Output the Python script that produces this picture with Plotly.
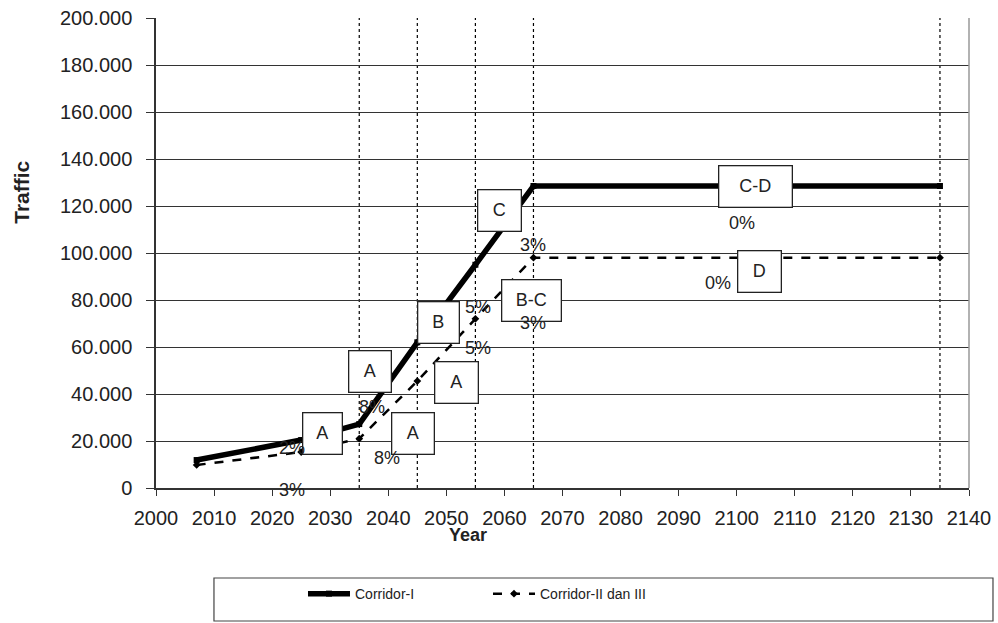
import plotly.graph_objects as go

# ---- data ----
years_c1 = [2007, 2025, 2035, 2045, 2055, 2065, 2135]
traffic_c1 = [11900, 20400, 27200, 62000, 95000, 128500, 128500]

years_c2 = [2007, 2025, 2035, 2045, 2055, 2065, 2135]
traffic_c2 = [9800, 15300, 21000, 45500, 72000, 98000, 98000]

phase_years = [2035, 2045, 2055, 2065, 2135]

x_ticks = list(range(2000, 2141, 10))
y_ticks = list(range(0, 200001, 20000))

# ---- layout helpers (label positions, in data units) ----
box_labels = ["A", "A", "A", "A", "B", "C", "B-C", "C-D", "D"]
box_x = [2028.6, 2036.9, 2044.3, 2051.8, 2048.6, 2059.2, 2064.7, 2103.3, 2104.0]
box_y = [23000, 49400, 23000, 44700, 70600, 117900, 80000, 128100, 92300]
box_w = [38, 41, 41, 42, 40, 42, 58, 72, 42]

pct_labels = ["3%", "2%", "8%", "8%", "5%", "5%", "3%", "3%", "0%", "0%"]
pct_x = [2023.4, 2023.4, 2037.2, 2039.8, 2055.4, 2055.4, 2064.9, 2064.9, 2100.9, 2096.8]
pct_y = [0, 17000, 34500, 12800, 77100, 59600, 103500, 70400, 112700, 87200]
pct_shift = [-2, 0, 0, 0, 0, 0, 0, 0, 0, 0]

FONT = "Liberation Sans, Arial, sans-serif"

fig = go.Figure()
fig.add_trace(go.Scatter(
    x=years_c1, y=traffic_c1, name="Corridor-I", mode="lines+markers",
    line=dict(color="black", width=5.5),
    marker=dict(symbol="square", size=6, color="black"),
))
fig.add_trace(go.Scatter(
    x=years_c2, y=traffic_c2, name="Corridor-II dan III", mode="lines+markers",
    line=dict(color="black", width=2.5, dash="dash"),
    marker=dict(symbol="diamond", size=6, color="black"),
))

shapes = []
for yr in phase_years:
    shapes.append(dict(type="line", xref="x", yref="y", x0=yr, x1=yr,
                       y0=0, y1=200000, line=dict(color="black", width=1.2, dash="dot"),
                       layer="below"))
# right border
shapes.append(dict(type="line", xref="paper", yref="paper", x0=1, x1=1, y0=0, y1=1,
                   line=dict(color="#999999", width=1.5)))
# legend frame
shapes.append(dict(type="rect", xref="paper", yref="paper",
                   x0=0.0713, x1=1.0295, y0=-0.283, y1=-0.1915,
                   line=dict(color="#444444", width=1.2), fillcolor="white", layer="below"))

annotations = []
for t, x, y, w in zip(box_labels, box_x, box_y, box_w):
    annotations.append(dict(x=x, y=y, xref="x", yref="y", text=t, showarrow=False,
                            xanchor="center", yanchor="middle",
                            width=w, height=40, borderpad=0, borderwidth=1.3,
                            bordercolor="#222222", bgcolor="white",
                            font=dict(family=FONT, size=18, color="#222222")))
for t, x, y, s in zip(pct_labels, pct_x, pct_y, pct_shift):
    annotations.append(dict(x=x, y=y, xref="x", yref="y", text=t, showarrow=False,
                            xanchor="center", yanchor="middle", yshift=s,
                            font=dict(family=FONT, size=18, color="#222222")))
annotations.append(dict(x=0.384, y=-0.1, xref="paper", yref="paper", text="<b>Year</b>",
                        xanchor="center", yanchor="middle",
                        showarrow=False, font=dict(family=FONT, size=18, color="#222222")))
annotations.append(dict(x=-0.165, y=0.63, xref="paper", yref="paper", text="<b>Traffic</b>",
                        xanchor="center", yanchor="middle",
                        textangle=-90, showarrow=False,
                        font=dict(family=FONT, size=21, color="#222222")))

fig.update_layout(
    width=998, height=623,
    margin=dict(l=156, r=29, t=18, b=135, autoexpand=False),
    paper_bgcolor="white", plot_bgcolor="white",
    separators=",.",
    font=dict(family=FONT, size=18, color="#222222"),
    shapes=shapes,
    annotations=annotations,
    showlegend=True,
    legend=dict(orientation="h", xref="container", yref="container",
                x=0.3036, y=0.0465, xanchor="left", yanchor="middle",
                bgcolor="rgba(0,0,0,0)", borderwidth=0, itemwidth=42,
                entrywidth=128, entrywidthmode="pixels",
                font=dict(family=FONT, size=14, color="#222222")),
    xaxis=dict(range=[2000, 2140], tickvals=x_ticks, ticks="outside", ticklen=6,
               tickcolor="#333333", showline=True, linecolor="#333333", linewidth=1.5,
               showgrid=False, zeroline=False, ticklabelstandoff=5, automargin=False,
               tickfont=dict(family=FONT, size=20, color="#222222")),
    yaxis=dict(range=[0, 200000], tickvals=y_ticks, tickformat=",d", ticks="outside",
               ticklen=8, tickcolor="#333333", showline=True, linecolor="#333333",
               linewidth=1.5, showgrid=True, gridcolor="#333333", gridwidth=1,
               zeroline=False, ticklabelstandoff=10, automargin=False,
               tickfont=dict(family=FONT, size=20, color="#222222")),
)

fig.write_html("out.html", config={"displayModeBar": False},
               post_script="document.body.style.margin='0px';document.body.style.overflow='hidden';")
